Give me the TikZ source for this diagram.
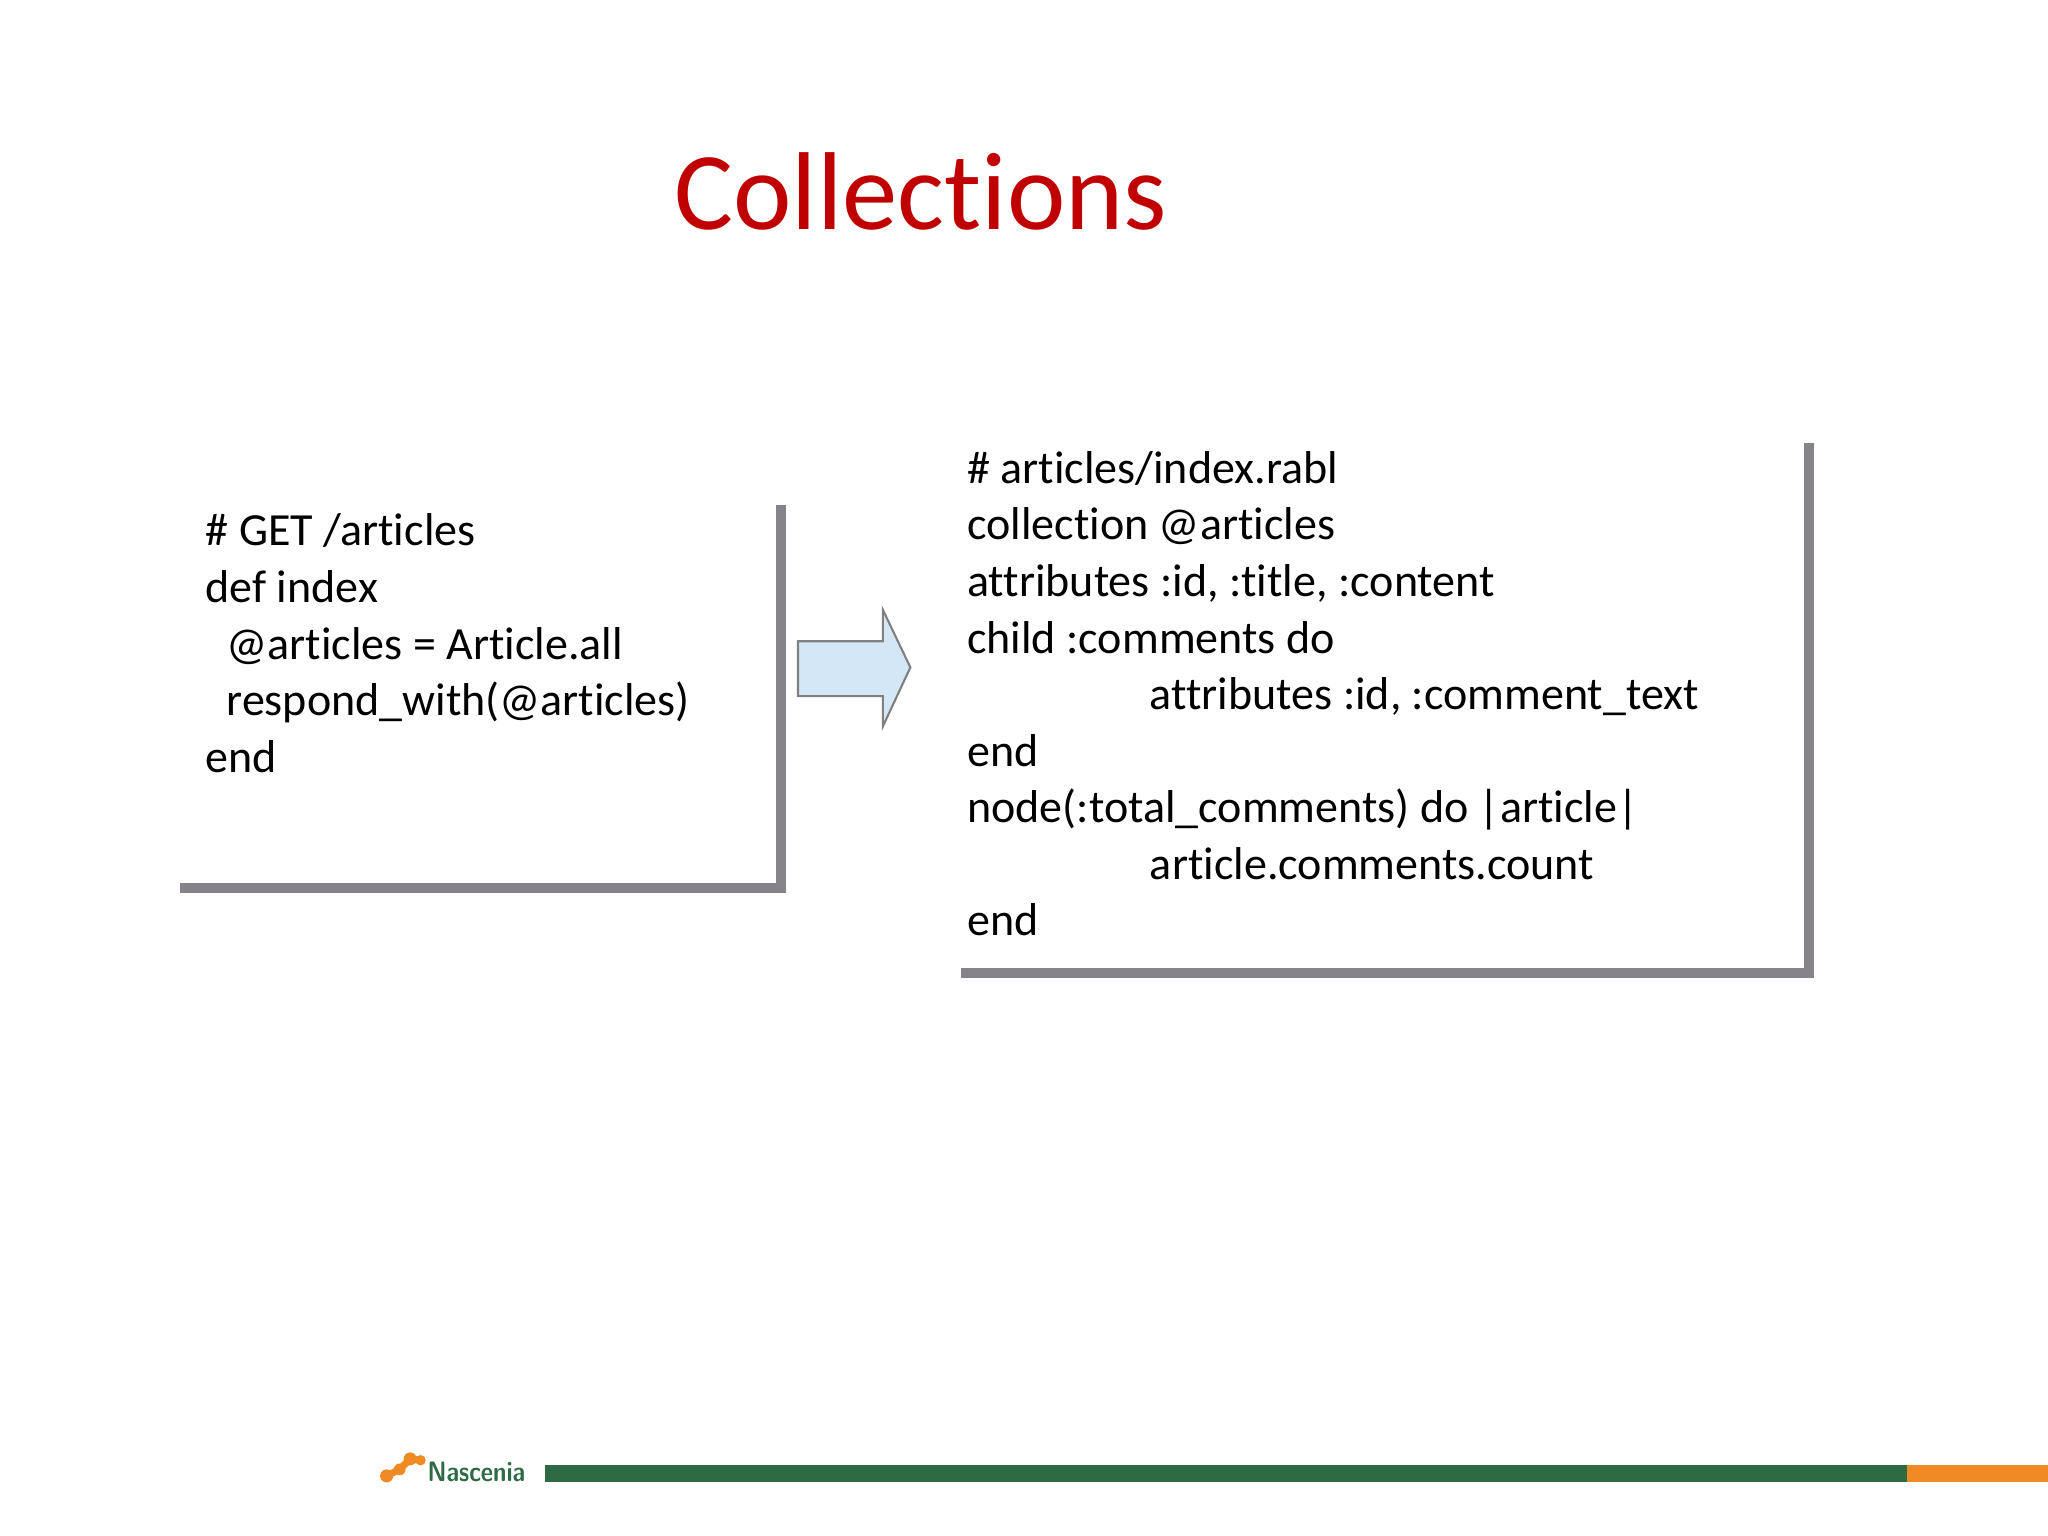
\documentclass[tikz,border=0pt]{standalone}
\usepackage{fontspec}
\setmainfont{Carlito}[Ligatures={NoCommon}]
\definecolor{titlered}{HTML}{C00000}
\definecolor{bargray}{HTML}{858389}
\definecolor{fgreen}{HTML}{2E6B45}
\definecolor{forange}{HTML}{F08A24}
\definecolor{arrowfill}{HTML}{D4E7F6}
\tikzset{code/.style={anchor=north west,align=left,inner sep=0pt,font=\fontsize{13.1}{16.1}\selectfont},
 frame/.style={bargray,line width=3pt}}
\begin{document}
\begin{tikzpicture}[x=0.013061cm,y=-0.013061cm]
\useasboundingbox (0,0) rectangle (1568,1176);
\node[anchor=base,text=titlered,font=\fontsize{31.5}{36}\selectfont] (title) at (705,176) {Collections};
\node[code] (left) at (157,393) {\# GET /articles\\def index\\\ \ @articles = Article.all\\\ \ respond\_with(@articles)\\end};
\node[code] (right) at (740,345) {\# articles/index.rabl\\collection @articles\\attributes :id, :title, :content\\child :comments do\\\hspace*{52pt}attributes :id, :comment\_text\\end\\node(:total\_comments) do |article|\\\hspace*{52pt}article.comments.count\\end};
\draw[frame] (598,387) -- (598,680) -- (138,680);
\draw[frame] (1385,339) -- (1385,745) -- (736,745);
\draw[gray,fill=arrowfill,line width=0.6pt] (611,491) -- (676,491) -- (676,467) -- (697,511) -- (676,556) -- (676,533) -- (611,533) -- cycle;
\fill[fgreen] (417,1122) rectangle (1460,1135);
\fill[forange] (1460,1122) rectangle (1568,1135);
\begin{scope}[forange]
\fill (296,1130) circle (5); \fill (306,1125) circle (4.5); \fill (314,1117) circle (5); \fill (322,1118) circle (4);
\draw[line width=2pt] (296,1130) -- (306,1125) -- (314,1117) -- (322,1118);
\end{scope}
\node[anchor=west,fgreen,font=\sffamily\bfseries\fontsize{8}{9}\selectfont,inner sep=0pt,xscale=0.85] (logo) at (327,1127) {Nascenia};
\end{tikzpicture}
\end{document}
